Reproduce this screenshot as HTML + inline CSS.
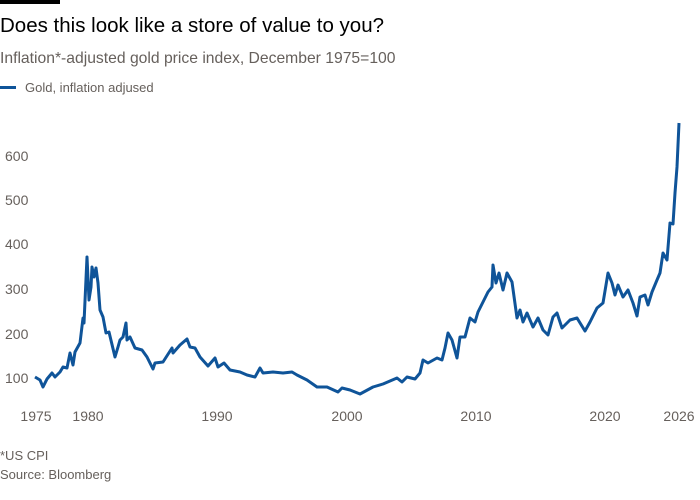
<!DOCTYPE html>
<html><head><meta charset="utf-8"><style>
body{margin:0;background:#fff;width:700px;height:500px;overflow:hidden;font-family:"Liberation Sans",sans-serif}
svg{position:absolute;left:0;top:0}
</style></head><body>
<svg width="700" height="500" viewBox="0 0 700 500">
<rect x="0" y="0" width="60" height="4" fill="#000"/>
<text x="0" y="32" font-size="20.5" fill="#000">Does this look like a store of value to you?</text>
<text x="0" y="63" font-size="15.7" fill="#66605c">Inflation*-adjusted gold price index, December 1975=100</text>
<rect x="0" y="86" width="16" height="3" fill="#0f5499"/>
<text x="25" y="92" font-size="13" fill="#66605c">Gold, inflation adjused</text>
<g font-size="14" fill="#66605c">
<text x="5" y="161">600</text><text x="5" y="205">500</text><text x="5" y="249">400</text>
<text x="5" y="294">300</text><text x="5" y="339">200</text><text x="5" y="383">100</text>
</g>
<g font-size="14" fill="#66605c" text-anchor="middle">
<text x="36" y="421">1975</text><text x="88" y="421">1980</text><text x="217" y="421">1990</text>
<text x="347" y="421">2000</text><text x="476" y="421">2010</text><text x="605" y="421">2020</text><text x="679" y="421">2026</text>
</g>
<text x="0" y="460" font-size="13" fill="#66605c">*US CPI</text>
<text x="0" y="479" font-size="13" fill="#66605c">Source: Bloomberg</text>
<polyline fill="none" stroke="#0f5499" stroke-width="3" stroke-linejoin="round" points="35,377 40,380 43,387 47,379 52,373 55,377 60,372 63,367 67,368 70,353 73,365 75,352 80,343 83,318 84,323 87,257 89,300 91,287 92,267 94,277 96,268 98,283 100,310 103,317 106,333 109,332 115,357 118,347 120,340 123,337 126,323 127,340 130,337 135,348 142,350 147,357 153,369 155,363 163,362 172,348 173,353 180,345 187,339 190,347 195,348 200,357 208,366 215,358 218,367 224,363 230,370 240,372 247,375 255,377 260,368 263,373 273,372 283,373 292,372 297,375 307,380 317,387 327,387 338,392 342,388 350,390 360,394 373,387 383,384 397,378 402,382 407,377 415,379 420,373 423,360 428,363 437,358 442,360 445,348 448,333 452,340 457,358 460,337 465,337 470,318 475,322 478,312 483,302 488,292 492,287 493,265 496,283 499,273 503,290 507,273 512,282 517,318 520,310 523,322 527,313 533,327 538,318 543,330 548,335 553,317 557,313 562,328 570,320 577,318 585,331 590,322 597,308 603,303 608,273 612,283 615,295 618,285 623,297 628,290 633,303 637,316 640,297 645,295 648,305 652,292 657,280 660,273 663,253 667,260 670,223 673,224 675,193 677,167 679,123"/>
</svg>
</body></html>
